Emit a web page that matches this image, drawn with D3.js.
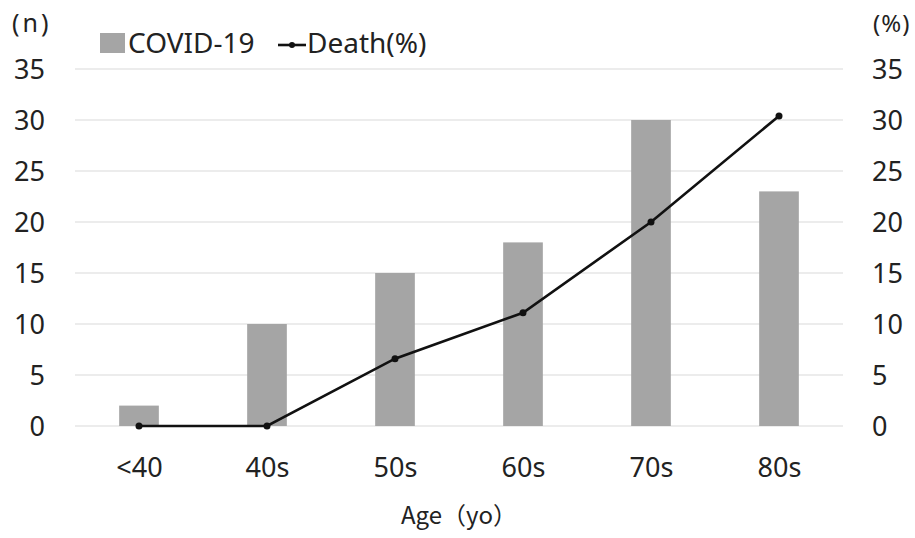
<!DOCTYPE html>
<html>
<head>
<meta charset="utf-8">
<script src="https://cdn.jsdelivr.net/npm/d3@7"></script>
<style>
  body { margin: 0; background: #fff; }
  text { font-family: "Noto Sans", "Noto Sans CJK JP", sans-serif; fill: #222; }
</style>
</head>
<body>
<div id="chart"></div>
<script>
const ages = ['<40', '40s', '50s', '60s', '70s', '80s'];
const cases = [2, 10, 15, 18, 30, 23];
const deathPct = [0, 0, 6.6, 11.1, 20, 30.4];
const ticks = [0, 5, 10, 15, 20, 25, 30, 35];

const w = 915;
const h = 538;
const plotL = 75, plotR = 843, plotT = 69, plotB = 426;

const svg = d3.select('#chart')
              .append('svg')
              .attr('width', w)
              .attr('height', h);

const xScale = d3.scaleBand()
                 .domain(ages)
                 .range([plotL, plotR])
                 .paddingInner(0.69)
                 .paddingOuter(0.345);
const xPoint = d3.scalePoint()
                 .domain(ages)
                 .range([plotL, plotR])
                 .padding(0.5);
const yLeft = d3.scaleLinear().domain([0, 35]).range([plotB, plotT]);
const yRight = d3.scaleLinear().domain([0, 35]).range([plotB, plotT]);

// grid
svg.append('g')
   .selectAll('line')
   .data(ticks)
   .enter()
   .append('line')
   .attr('x1', plotL)
   .attr('x2', plotR)
   .attr('y1', d => yLeft(d))
   .attr('y2', d => yLeft(d))
   .attr('stroke', '#d9d9d9')
   .attr('stroke-width', 1.2);

// bars
svg.selectAll('rect.bar')
   .data(cases)
   .enter()
   .append('rect')
   .attr('class', 'bar')
   .attr('x', (d, i) => xScale(ages[i]))
   .attr('width', xScale.bandwidth())
   .attr('y', d => yLeft(d))
   .attr('height', d => yLeft(0) - yLeft(d))
   .attr('fill', '#a5a5a5');

// line
const line = d3.line()
               .x((d, i) => xPoint(ages[i]))
               .y(d => yRight(d));
svg.append('path')
   .datum(deathPct)
   .attr('d', line)
   .attr('fill', 'none')
   .attr('stroke', '#111')
   .attr('stroke-width', 2.6);
svg.selectAll('circle.pt')
   .data(deathPct)
   .enter()
   .append('circle')
   .attr('class', 'pt')
   .attr('cx', (d, i) => xPoint(ages[i]))
   .attr('cy', d => yRight(d))
   .attr('r', 3.5)
   .attr('fill', '#111');

// axes
const yAxisL = d3.axisLeft(yLeft).tickValues(ticks).tickSize(0).tickPadding(30);
const yAxisR = d3.axisRight(yRight).tickValues(ticks).tickSize(0).tickPadding(29);
const xAxis = d3.axisBottom(xPoint).tickSize(0).tickPadding(32);

const gl = svg.append('g').attr('transform', `translate(${plotL}, 0)`).call(yAxisL);
const gr = svg.append('g').attr('transform', `translate(${plotR}, 0)`).call(yAxisR);
const gx = svg.append('g').attr('transform', `translate(0, ${plotB})`).call(xAxis);
[gl, gr, gx].forEach(g => {
  g.select('.domain').remove();
  g.selectAll('text').style('font-size', '27px').attr('fill', '#222')
   .style('font-family', '"Noto Sans", sans-serif');
});
gl.selectAll('text').attr('dy', '0.36em');
gr.selectAll('text').attr('dy', '0.36em');

// unit labels
svg.append('text').attr('x', 12).attr('y', 32).style('font-size', '25px')
   .style('letter-spacing', '3px').text('(n)');
svg.append('text').attr('x', 873).attr('y', 32).style('font-size', '24px')
   .style('letter-spacing', '1px').text('(%)');

// x title
svg.append('text')
   .attr('x', 459)
   .attr('y', 524)
   .attr('text-anchor', 'middle')
   .style('font-size', '24px')
   .style('font-family', '"Noto Sans CJK JP", sans-serif')
   .text('Age（yo）');

// legend
const lg = svg.append('g');
lg.append('rect').attr('x', 100).attr('y', 33).attr('width', 25).attr('height', 20).attr('fill', '#a5a5a5');
lg.append('text').attr('x', 128).attr('y', 53).style('font-size', '28px').text('COVID-19');
lg.append('line').attr('x1', 278).attr('x2', 306).attr('y1', 45).attr('y2', 45)
  .attr('stroke', '#111').attr('stroke-width', 2.6);
lg.append('circle').attr('cx', 292).attr('cy', 45).attr('r', 3).attr('fill', '#111');
lg.append('text').attr('x', 307).attr('y', 53).style('font-size', '28px').text('Death(%)');
</script>
</body>
</html>
